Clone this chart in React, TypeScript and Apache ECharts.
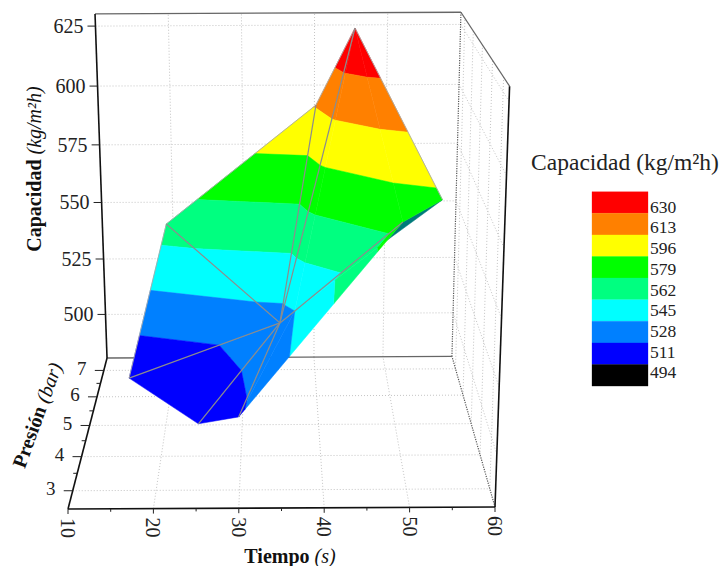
import React, { useEffect, useRef } from "react";
import * as echarts from "echarts";

// Surface vertices
const vertexNames = ["A", "L", "B", "B2", "C", "E", "V", "P", "G", "F", "R"];
const vertexTime = [15, 20, 25, 30, 35, 36.9, 40, 45, 47.9, 50.2, 55];
const vertexPressure = [5.41, 6.05, 3.45, 2.97, 5.07, 4.91, 6.66, 6.37, 3.83, 4.48, 4.47];
const vertexCapacity = [495, 553, 500, 508.6, 521.5, 528, 597, 629.5, 566, 567, 575.5];

// Triangles as vertex-index triples; the first is the fold's back face
const backFaces = [[9, 10, 8]];
const frontFaces = [
  [4, 1, 6], [4, 6, 7], [4, 7, 5], [5, 7, 9], [9, 7, 10], [5, 9, 8], [5, 8, 3],
  [4, 5, 3], [4, 3, 2], [4, 2, 0], [4, 0, 1],
];
const meshEdges = [[4, 1], [4, 6], [4, 7], [4, 0], [4, 2], [4, 3], [4, 5], [5, 9]];
const rimEdges = [[1, 6], [6, 7], [7, 10], [1, 0]];

// Colour levels
const legendLabels = [630, 613, 596, 579, 562, 545, 528, 511, 494];
const legendColors = ["#ff0000", "#ff8000", "#ffff00", "#00ff00", "#00ff80", "#00ffff", "#0080ff", "#0000ff", "#000000"];
const backFaceColor = "#007a7a";

// Axes
const timeRange = [10, 60];
const pressureRange = [2.5, 7.5];
const capacityRange = [480, 630];
const timeTicks = [10, 20, 30, 40, 50, 60];
const timeMinorTicks = [15, 25, 35, 45, 55];
const pressureTicks = [3, 4, 5, 6, 7];
const pressureMinorTicks = [3.5, 4.5, 5.5, 6.5];
const capacityTicks = [500, 525, 550, 575, 600, 625];

const FONT = '"Liberation Serif", "Times New Roman", serif';

// Projection of the 3D box on to the page
function project(t: number, p: number, c: number): [number, number] {
  const u = (t - timeRange[0]) / (timeRange[1] - timeRange[0]);
  const v = (p - pressureRange[0]) / (pressureRange[1] - pressureRange[0]);
  const w = (c - capacityRange[0]) / (capacityRange[1] - capacityRange[0]);
  const d = 1 + 0.238 * v - 0.071 * w;
  return [
    (68 + 427 * u + 64.5 * v - 21.6 * w) / d,
    (509 - 2 * u - 65.8 * v - 426.9 * w) / d,
  ];
}

type V3 = number[];
function clipAt(poly: V3[], level: number, keepAbove: boolean): V3[] {
  const out: V3[] = [];
  const inside = (q: V3) => (keepAbove ? q[2] >= level : q[2] <= level);
  for (let i = 0; i < poly.length; i++) {
    const a = poly[i];
    const b = poly[(i + 1) % poly.length];
    if (inside(a)) out.push(a);
    if (inside(a) !== inside(b)) {
      const f = (level - a[2]) / (b[2] - a[2]);
      out.push([a[0] + f * (b[0] - a[0]), a[1] + f * (b[1] - a[1]), level]);
    }
  }
  return out;
}

const vertexRow = (i: number) => [vertexTime[i], vertexPressure[i], vertexCapacity[i]];
const triRow = (tri: number[], back: number) => [...vertexRow(tri[0]), ...vertexRow(tri[1]), ...vertexRow(tri[2]), back];

const lineStyles = [
  { stroke: "#c4c4c4", lineWidth: 1, lineDash: [1, 2] }, // 0 grid
  { stroke: "#111111", lineWidth: 1.6 }, // 1 main axis
  { stroke: "#666666", lineWidth: 1.3 }, // 2 back frame
  { stroke: "#555555", lineWidth: 1.2, lineDash: [1.2, 1.2] }, // 3 dotted frame
  { stroke: "#222222", lineWidth: 1 }, // 4 tick
  { stroke: "#8c8c8c", lineWidth: 1.2 }, // 5 mesh
  { stroke: "#a8a8a8", lineWidth: 0.9 }, // 6 rim
];

function buildFrame() {
  const [t0, t1] = timeRange;
  const [p0, p1] = pressureRange;
  const [c0, c1] = capacityRange;
  const rows: number[][] = [];
  const seg = (a: number[], b: number[], s: number) => rows.push([...a, ...b, s, 0, 0]);
  const inner = timeTicks.slice(1, -1);
  inner.forEach((t) => {
    seg([t, p1, c0], [t, p1, c1], 0);
    seg([t, p0, c0], [t, p1, c0], 0);
  });
  capacityTicks.forEach((c) => {
    seg([t0, p1, c], [t1, p1, c], 0);
    seg([t1, p0, c], [t1, p1, c], 0);
  });
  pressureTicks.forEach((p) => {
    seg([t0, p, c0], [t1, p, c0], 0);
    seg([t1, p, c0], [t1, p, c1], 0);
  });
  seg([t1, p1, c0], [t1, p1, c1], 3);
  seg([t1, p0, c0], [t1, p1, c0], 3);
  seg([t0, p1, c0], [t1, p1, c0], 2);
  seg([t0, p1, c1], [t1, p1, c1], 2);
  seg([t1, p0, c1], [t1, p1, c1], 2);
  return rows;
}

function buildAxes() {
  const [t0, t1] = timeRange;
  const [p0, p1] = pressureRange;
  const [c0, c1] = capacityRange;
  const rows: number[][] = [];
  const seg = (a: number[], b: number[], s: number, dx = 0, dy = 0) => rows.push([...a, ...b, s, dx, dy]);
  seg([t0, p1, c0], [t0, p1, c1], 1);
  seg([t0, p0, c0], [t1, p0, c0], 1);
  seg([t0, p0, c0], [t0, p1, c0], 1);
  seg([t1, p0, c0], [t1, p0, c1], 1);
  capacityTicks.forEach((c) => seg([t0, p1, c], [t0, p1, c], 4, -8, 0));
  pressureTicks.forEach((p) => seg([t0, p, c0], [t0, p, c0], 4, -9, 0));
  pressureMinorTicks.forEach((p) => seg([t0, p, c0], [t0, p, c0], 4, -4, 0));
  timeTicks.forEach((t) => seg([t, p0, c0], [t, p0, c0], 4, 0, 5));
  timeMinorTicks.forEach((t) => seg([t, p0, c0], [t, p0, c0], 4, 0, 3));
  return rows;
}

function edgeRows(edges: number[][], style: number) {
  return edges.map(([a, b]) => [...vertexRow(a), ...vertexRow(b), style, 0, 0]);
}

function renderSegment(_: any, api: any) {
  const a = project(api.value(0), api.value(1), api.value(2));
  const b = project(api.value(3), api.value(4), api.value(5));
  const s = lineStyles[api.value(6)];
  const p1 = api.coord(a);
  const p2 = api.coord(b);
  return {
    type: "line",
    shape: { x1: p1[0], y1: p1[1], x2: p2[0] + api.value(7), y2: p2[1] + api.value(8) },
    style: { ...s, fill: "none" },
  };
}

function renderTriangle(_: any, api: any) {
  const tri: V3[] = [0, 3, 6].map((k) => [api.value(k), api.value(k + 1), api.value(k + 2)]);
  const toPoints = (poly: V3[]) => poly.map((q) => api.coord(project(q[0], q[1], q[2])));
  if (api.value(9) === 1) {
    return {
      type: "polygon",
      shape: { points: toPoints(tri) },
      style: { fill: backFaceColor, stroke: backFaceColor, lineWidth: 0.5 },
    };
  }
  const children: any[] = [];
  legendLabels.forEach((hi, i) => {
    const lo = i < legendLabels.length - 1 ? legendLabels[i + 1] : -Infinity;
    let poly = clipAt(tri, hi === legendLabels[0] ? Infinity : hi, false);
    if (lo !== -Infinity) poly = clipAt(poly, lo, true);
    if (poly.length >= 3) {
      children.push({
        type: "polygon",
        shape: { points: toPoints(poly) },
        style: { fill: legendColors[i], stroke: legendColors[i], lineWidth: 0.5 },
      });
    }
  });
  return { type: "group", children };
}

function tickLabel(kind: number) {
  if (kind === 0) return { dx: -12, dy: 0, align: "right", size: 20, rot: 0 };
  if (kind === 1) return { dx: -22, dy: -2, align: "center", size: 19, rot: 0 };
  return { dx: 0, dy: 19, align: "center", size: 20, rot: -Math.PI / 2 };
}

function renderTickLabel(_: any, api: any) {
  const pos = api.coord(project(api.value(0), api.value(1), api.value(2)));
  const k = tickLabel(api.value(4));
  return {
    type: "text",
    x: pos[0] + k.dx,
    y: pos[1] + k.dy,
    rotation: k.rot,
    style: {
      text: String(api.value(3)),
      x: 0,
      y: 0,
      fill: "#222222",
      align: k.align,
      verticalAlign: "middle",
      fontFamily: FONT,
      fontSize: k.size,
    },
  };
}

function buildOption() {
  const tickLabelRows = [
    ...capacityTicks.map((c) => [timeRange[0], pressureRange[1], c, c, 0]),
    ...pressureTicks.map((p) => [timeRange[0], p, capacityRange[0], p, 1]),
    ...timeTicks.map((t) => [t, pressureRange[0], capacityRange[0], t, 2]),
  ];
  const common = { type: "custom", coordinateSystem: "cartesian2d", clip: false, silent: true, encode: { x: 0, y: 1 } };
  const bold = { fontFamily: FONT, fontSize: 20, fontWeight: "bold", fill: "#111111" };
  const ital = { fontFamily: FONT, fontSize: 20, fontStyle: "italic", fill: "#111111" };
  const axisTitle = (text: string, x: number, y: number, rotation: number) => ({
    type: "text",
    x,
    y,
    rotation,
    silent: true,
    style: {
      text,
      x: 0,
      y: 0,
      align: "center",
      verticalAlign: "middle",
      rich: { b: bold, i: ital },
      fontFamily: FONT,
      fontSize: 20,
    },
  });
  const swatchTop = 191.7;
  const swatchH = 21.6;
  const graphic = [
    axisTitle("{b|Capacidad} {i|(kg/m²h)}", 34, 169, Math.PI / 2),
    axisTitle("{b|Presión} {i|(bar)}", 37, 415, (70 * Math.PI) / 180),
    axisTitle("{b|Tiempo} {i|(s)}", 290, 556, 0),
    {
      type: "text",
      silent: true,
      style: {
        text: "Capacidad (kg/m²h)",
        x: 625,
        y: 162,
        align: "center",
        verticalAlign: "middle",
        fontFamily: FONT,
        fontSize: 23.5,
        fill: "#222222",
      },
    },
    ...legendColors.map((color, i) => ({
      type: "rect",
      silent: true,
      shape: { x: 592, y: swatchTop + i * swatchH, width: 56, height: swatchH },
      style: { fill: color, stroke: color, lineWidth: 0.3 },
    })),
    ...legendLabels.map((label, i) => ({
      type: "text",
      silent: true,
      style: {
        text: String(label),
        x: 650,
        y: 206.7 + i * 20.7,
        align: "left",
        verticalAlign: "middle",
        fontFamily: FONT,
        fontSize: 17.5,
        fill: "#222222",
      },
    })),
  ];
  return {
    animation: false,
    backgroundColor: "#ffffff",
    grid: { left: 0, right: 0, top: 0, bottom: 0 },
    xAxis: { type: "value", min: 0, max: 721, show: false },
    yAxis: { type: "value", min: 0, max: 566, inverse: true, show: false },
    graphic,
    series: [
      { ...common, name: "marco", z: 1, data: buildFrame(), renderItem: renderSegment },
      { ...common, name: "reverso", z: 2, data: backFaces.map((t) => triRow(t, 1)), renderItem: renderTriangle },
      { ...common, name: "Capacidad", z: 3, data: frontFaces.map((t) => triRow(t, 0)), renderItem: renderTriangle },
      { ...common, name: "borde", z: 4, data: edgeRows(rimEdges, 6), renderItem: renderSegment },
      { ...common, name: "malla", z: 5, data: edgeRows(meshEdges, 5), renderItem: renderSegment },
      { ...common, name: "ejes", z: 6, data: buildAxes(), renderItem: renderSegment },
      { ...common, name: "etiquetas", z: 7, data: tickLabelRows, renderItem: renderTickLabel },
    ],
  };
}

export default function App() {
  const ref = useRef<HTMLDivElement>(null);
  useEffect(() => {
    document.body.style.margin = "0";
    const chart = echarts.init(ref.current!, undefined, { renderer: "svg" });
    chart.setOption(buildOption() as any);
    return () => chart.dispose();
  }, []);
  return <div ref={ref} style={{ width: 721, height: 566 }} />;
}
